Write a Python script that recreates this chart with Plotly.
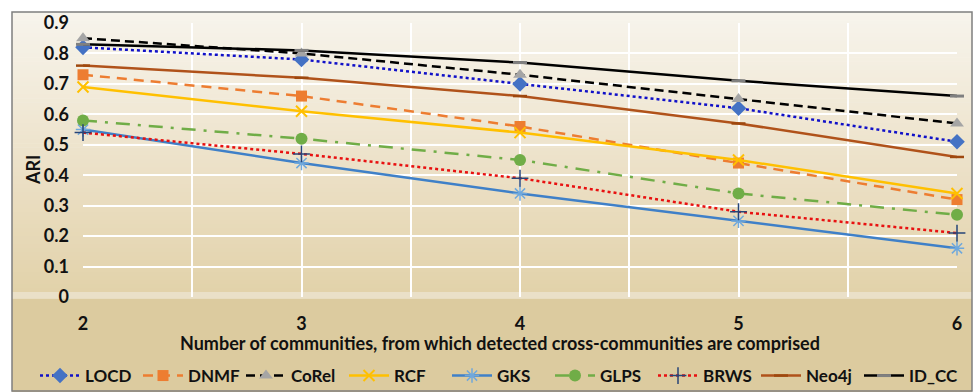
import plotly.graph_objects as go

# Number of communities combined into each detected cross-community
communities = [2, 3, 4, 5, 6]

# ARI per method
locd = [0.82, 0.78, 0.70, 0.62, 0.51]
dnmf = [0.73, 0.66, 0.56, 0.44, 0.32]
corel = [0.85, 0.80, 0.73, 0.65, 0.57]
rcf = [0.69, 0.61, 0.54, 0.45, 0.34]
gks = [0.55, 0.44, 0.34, 0.25, 0.16]
glps = [0.58, 0.52, 0.45, 0.34, 0.27]
brws = [0.54, 0.47, 0.39, 0.28, 0.21]
neo4j = [0.76, 0.72, 0.66, 0.57, 0.46]
id_cc = [0.83, 0.81, 0.77, 0.71, 0.66]

y_ticks = [0, 0.1, 0.2, 0.3, 0.4, 0.5, 0.6, 0.7, 0.8, 0.9]
y_tick_labels = ["0", "0.1", "0.2", "0.3", "0.4", "0.5", "0.6", "0.7", "0.8", "0.9"]
x_tick_labels = ["2", "3", "4", "5", "6"]

FONT = "Lato"
W, H = 976, 392
L, R, T, B = 83, 19, 23, 95
PW, PH = W - L - R, H - T - B


def px_x(px):
    return (px - L) / PW


def px_y(py):
    return (H - B - py) / PH


series = [
    ("LOCD", locd, dict(color="#1010c8", dash="dot", width=2.5),
     dict(symbol="diamond", size=12, color="#4472c4")),
    ("DNMF", dnmf, dict(color="#ed7d31", dash="10px,7px", width=2.5),
     dict(symbol="square", size=11, color="#ed7d31")),
    ("CoRel", corel, dict(color="#000000", dash="9px,5px", width=2.5),
     dict(symbol="triangle-up", size=12, color="#a5a5a5")),
    ("RCF", rcf, dict(color="#ffc000", width=2.5),
     dict(symbol="x-thin", size=11, color="#ffc000", line=dict(color="#ffc000", width=2))),
    ("GKS", gks, dict(color="#3f80c8", width=2.5),
     dict(symbol="asterisk", size=12, color="#6fa8dc", line=dict(color="#6fa8dc", width=1.5))),
    ("GLPS", glps, dict(color="#70ad47", dash="14px,8px,3px,8px", width=2.5),
     dict(symbol="circle", size=12, color="#70ad47")),
    ("BRWS", brws, dict(color="#e81010", dash="dot", width=2.5),
     dict(symbol="cross-thin", size=12, color="#264478", line=dict(color="#264478", width=1.5))),
    ("Neo4j", neo4j, dict(color="#b0521a", width=2.5),
     dict(symbol="line-ew", size=10, color="#9e480e", line=dict(color="#9e480e", width=2.5))),
    ("ID_CC", id_cc, dict(color="#000000", width=2.5),
     dict(symbol="line-ew", size=10, color="#808080", line=dict(color="#808080", width=3))),
]

fig = go.Figure()
for name, vals, line, marker in series:
    fig.add_trace(go.Scatter(
        x=communities, y=vals, name=name, mode="lines+markers",
        line=line, marker=marker, cliponaxis=False,
    ))


def lerp(c1, c2, t):
    a = [int(c1[i:i + 2], 16) for i in (1, 3, 5)]
    b = [int(c2[i:i + 2], 16) for i in (1, 3, 5)]
    return "#%02x%02x%02x" % tuple(round(a[k] + (b[k] - a[k]) * t) for k in range(3))


# parchment-style background: light at the top, tan towards the bottom
shapes = []
stops = [(12, "#f7f4ec"), (90, "#f2ebdb"), (180, "#ebdfc4"), (292, "#e2d2aa")]
for (y0, c0), (y1, c1) in zip(stops[:-1], stops[1:]):
    n = max(1, (y1 - y0) // 4)
    for i in range(n):
        ya = y0 + (y1 - y0) * i / n
        yb = y0 + (y1 - y0) * (i + 1) / n + 0.6
        shapes.append(dict(type="rect", xref="paper", yref="paper",
                           x0=px_x(12), x1=px_x(972), y0=px_y(yb), y1=px_y(ya),
                           fillcolor=lerp(c0, c1, (i + 0.5) / n), line_width=0, layer="below"))
shapes.append(dict(type="rect", xref="paper", yref="paper",
                   x0=px_x(12), x1=px_x(972), y0=px_y(298.5), y1=px_y(292),
                   fillcolor="#eae0c8", line_width=0, layer="below"))
shapes.append(dict(type="rect", xref="paper", yref="paper",
                   x0=px_x(12), x1=px_x(972), y0=px_y(392), y1=px_y(298.5),
                   fillcolor="#dccb9f", line_width=0, layer="below"))
# chart frame
shapes.append(dict(type="rect", xref="paper", yref="paper",
                   x0=px_x(12), x1=px_x(972), y0=px_y(391), y1=px_y(12),
                   fillcolor="rgba(0,0,0,0)", line=dict(color="#7f7f7f", width=1.5), layer="above"))

fig.update_layout(
    width=W, height=H,
    margin=dict(l=L, r=R, t=T, b=B, autoexpand=False),
    paper_bgcolor="white",
    plot_bgcolor="rgba(0,0,0,0)",
    font=dict(family=FONT, color="#111111"),
    shapes=shapes,
    showlegend=True,
    legend=dict(
        orientation="h", x=px_x(35), xanchor="left", y=px_y(376), yanchor="middle",
        font=dict(family=FONT, size=17, color="#111111", weight="bold"),
        bgcolor="rgba(0,0,0,0)", itemwidth=40, tracegroupgap=0,
        entrywidth=48, entrywidthmode="pixels",
    ),
    annotations=[
        dict(text="<b>ARI</b>", xref="paper", yref="paper", x=px_x(33), y=px_y(170),
             xanchor="center", yanchor="middle",
             textangle=-90, showarrow=False, font=dict(family=FONT, size=18, color="#111111")),
        dict(text="<b>Number of communities, from which detected cross-communities are comprised</b>",
             xref="paper", yref="paper", x=px_x(500), y=px_y(343),
             xanchor="center", yanchor="middle", showarrow=False,
             font=dict(family=FONT, size=18, color="#111111")),
    ],
)

fig.update_xaxes(
    range=[2, 6], tickvals=communities, ticktext=x_tick_labels,
    showgrid=True, gridcolor="white", gridwidth=2,
    minor=dict(dtick=0.5, tick0=2, showgrid=True, gridcolor="white", gridwidth=2),
    zeroline=False, showline=False, ticks="",
    ticklabelstandoff=14,
    tickfont=dict(family=FONT, size=18, color="#111111", weight="bold"),
)
fig.update_yaxes(
    range=[0, 0.9], tickvals=y_ticks, ticktext=y_tick_labels,
    showgrid=True, gridcolor="white", gridwidth=2,
    zeroline=False, showline=False, ticks="",
    ticklabelstandoff=13,
    tickfont=dict(family=FONT, size=18, color="#111111", weight="bold"),
)

fig.write_html("out.html")
